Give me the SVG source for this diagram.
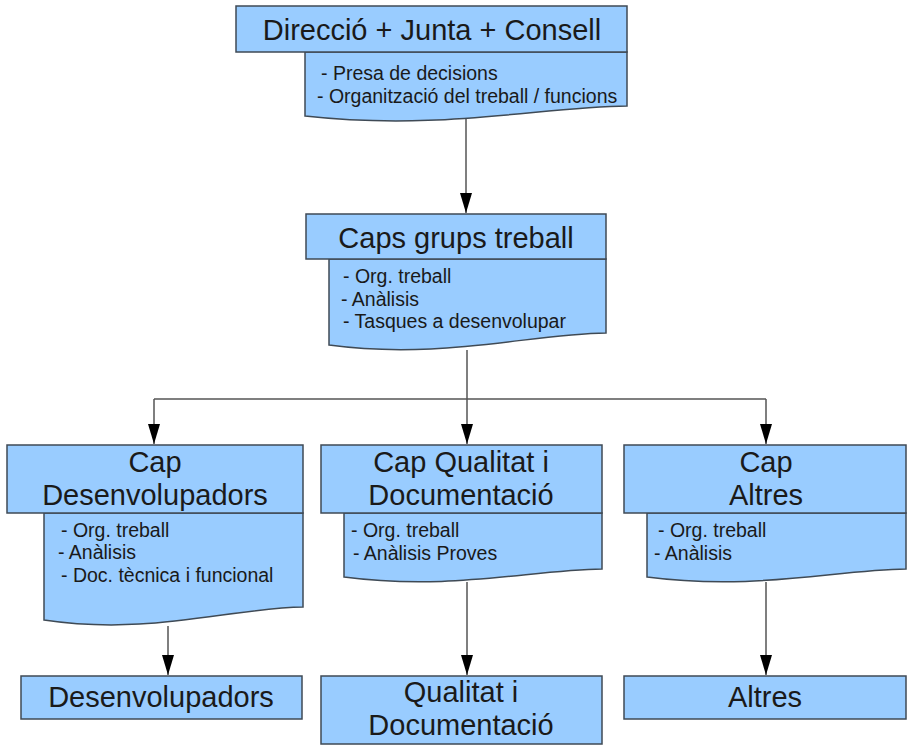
<svg xmlns="http://www.w3.org/2000/svg" width="908" height="749" viewBox="0 0 908 749">
  <defs>
    <marker id="arrow" viewBox="0 0 20 12" refX="20" refY="6" markerWidth="20" markerHeight="12" markerUnits="userSpaceOnUse" orient="auto">
      <path d="M0,0 L20,6 L0,12 Z" fill="#000"/>
    </marker>
  </defs>
  <style>
    .box { fill: #99ccff; stroke: #3f4a55; stroke-width: 1.5; }
    .head { font-family: "Liberation Sans", Arial, sans-serif; font-size: 29px; fill: #1a1a1a; text-anchor: middle; }
    .body { font-family: "Liberation Sans", Arial, sans-serif; font-size: 19.5px; fill: #1a1a1a; }
    .wire { fill: none; stroke: #555; stroke-width: 1.5; }
  </style>
  <rect width="908" height="749" fill="#fff"/>

  <!-- connectors -->
  <g id="connectors">
    <path class="wire" d="M466,112 V213" marker-end="url(#arrow)"/>
    <path class="wire" d="M467,350 V399"/>
    <path class="wire" d="M154,399 H766"/>
    <path class="wire" d="M154,399 V444" marker-end="url(#arrow)"/>
    <path class="wire" d="M467,399 V444" marker-end="url(#arrow)"/>
    <path class="wire" d="M766,399 V444" marker-end="url(#arrow)"/>
    <path class="wire" d="M168,626 V675" marker-end="url(#arrow)"/>
    <path class="wire" d="M467,582 V675" marker-end="url(#arrow)"/>
    <path class="wire" d="M766,582 V675" marker-end="url(#arrow)"/>
  </g>

  <!-- top management -->
  <g id="direccio">
    <path class="box" d="M305,52 H627 V106 C540,107 440,131 305,116 Z"/>
    <rect class="box" x="236" y="6" width="391" height="46"/>
    <text class="head" x="432" y="40">Direcció + Junta + Consell</text>
    <text class="body" x="321" y="80">- Presa de decisions</text>
    <text class="body" x="317" y="103">- Organització del treball / funcions</text>
  </g>

  <g id="caps-grups">
    <path class="box" d="M329,259 H606 V333 C530,334 440,360 329,345 Z"/>
    <rect class="box" x="306" y="214" width="300" height="45"/>
    <text class="head" x="456" y="248">Caps grups treball</text>
    <text class="body" x="343" y="283">- Org. treball</text>
    <text class="body" x="341" y="306">- Anàlisis</text>
    <text class="body" x="343" y="328">- Tasques a desenvolupar</text>
  </g>

  <g id="cap-desenvolupadors">
    <path class="box" d="M44,513 H303 V607 C230,608 150,636 44,620 Z"/>
    <rect class="box" x="7" y="445" width="296" height="68"/>
    <text class="head" x="155" y="472">Cap</text>
    <text class="head" x="155" y="505">Desenvolupadors</text>
    <text class="body" x="61" y="537">- Org. treball</text>
    <text class="body" x="58" y="559">- Anàlisis</text>
    <text class="body" x="61" y="582">- Doc. tècnica i funcional</text>
  </g>

  <g id="cap-qualitat">
    <path class="box" d="M344,513 H602 V569 C530,570 450,591 344,577 Z"/>
    <rect class="box" x="321" y="445" width="281" height="68"/>
    <text class="head" x="461" y="472">Cap Qualitat i</text>
    <text class="head" x="461" y="505">Documentació</text>
    <text class="body" x="351" y="537">- Org. treball</text>
    <text class="body" x="353" y="560">- Anàlisis Proves</text>
  </g>

  <g id="cap-altres">
    <path class="box" d="M647,513 H906 V569 C834,570 754,591 647,577 Z"/>
    <rect class="box" x="624" y="445" width="282" height="68"/>
    <text class="head" x="766" y="472">Cap</text>
    <text class="head" x="766" y="505">Altres</text>
    <text class="body" x="658" y="537">- Org. treball</text>
    <text class="body" x="654" y="560">- Anàlisis</text>
  </g>

  <g id="desenvolupadors">
    <rect class="box" x="21" y="676" width="281" height="43"/>
    <text class="head" x="161" y="707">Desenvolupadors</text>
  </g>

  <g id="qualitat">
    <rect class="box" x="321" y="676" width="281" height="68"/>
    <text class="head" x="461" y="702">Qualitat i</text>
    <text class="head" x="461" y="735">Documentació</text>
  </g>

  <g id="altres">
    <rect class="box" x="624" y="676" width="282" height="43"/>
    <text class="head" x="765" y="707">Altres</text>
  </g>
</svg>
